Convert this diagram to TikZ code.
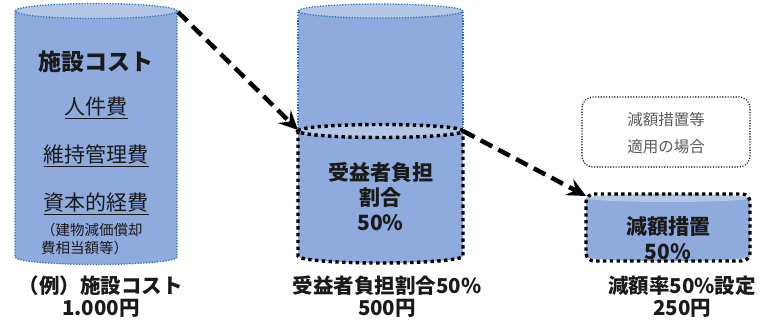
\documentclass[tikz,border=0pt]{standalone}
\usepackage{fontspec}
\newfontfamily\jp{Noto Sans CJK JP}
\usetikzlibrary{arrows.meta}
\definecolor{cylfill}{HTML}{8FAADC}
\definecolor{cyltop}{HTML}{B4C7E7}
\definecolor{cylline}{HTML}{2E75B6}
\definecolor{txt}{HTML}{1A1A1A}
\definecolor{graytxt}{HTML}{595959}
\tikzset{
  cylfillstyle/.style={fill=cylfill},
  cyltopstyle/.style={fill=cyltop},
  blueedge/.style={draw=cylline, line width=1.3pt, dash pattern=on 1.3pt off 1.5pt},
  blackedge/.style={draw=black, line width=3.4pt, dash pattern=on 3.4pt off 3.4pt},
  flowarrow/.style={draw=black, line width=4.5pt, dash pattern=on 13pt off 7pt, -{Stealth[length=19pt,width=18pt,inset=7pt]}},
  bigtxt/.style={font=\jp\fontsize{20.5}{22}\selectfont\bfseries, text=txt, align=center, inner sep=0pt},
  innertxt/.style={font=\jp\fontsize{21}{25}\selectfont\bfseries, text=txt, align=center, inner sep=0pt},
  cyltxt/.style={font=\jp\fontsize{21}{23}\selectfont, text=txt, inner sep=0pt},
  smalltxt/.style={font=\jp\fontsize{14.5}{18}\selectfont, text=txt, align=left, inner sep=0pt},
  graytext/.style={font=\jp\fontsize{15.5}{27}\selectfont, text=graytxt, align=center, inner sep=0pt},
  notebox/.style={draw=black, line width=1.1pt, dash pattern=on 1.1pt off 1.6pt, rounded corners=11pt}
}
\begin{document}
\begin{tikzpicture}[x=1pt,y=1pt]
\useasboundingbox (0,0) rectangle (771,320);
% ---- cylinder 1 ----
\path[cylfillstyle] (15,309) -- (15,63) arc[start angle=180,end angle=360,x radius=81,y radius=7.5] -- (177,309) -- cycle;
\draw[blueedge] (15,309) -- (15,63) arc[start angle=180,end angle=360,x radius=81,y radius=7.5] -- (177,309);
\path[cyltopstyle,blueedge] (96,309) ellipse[x radius=81,y radius=7.5];
\node[cyltxt,font=\jp\fontsize{23}{25}\selectfont\bfseries] (c1title) at (96,258) {施設コスト};
\node[cyltxt] (c1a) at (96,212) {\underline{人件費}};
\node[cyltxt] (c1b) at (96,164) {\underline{維持管理費}};
\node[cyltxt] (c1c) at (96,116) {\underline{資本的経費}};
\node[smalltxt,anchor=west] (c1d) at (41,81) {（建物減価償却\\ 費相当額等）};
% ---- cylinder 2 ----
\path[cylfillstyle] (298,309) -- (298,64) arc[start angle=180,end angle=360,x radius=82.5,y radius=7] -- (463,309) -- cycle;
\draw[blueedge] (298,189) -- (298,309);
\draw[blueedge] (463,189) -- (463,309);
\path[cyltopstyle,blueedge] (380.5,309) ellipse[x radius=82.5,y radius=7];
\draw[blackedge] (298,189) -- (298,64) arc[start angle=180,end angle=360,x radius=82.5,y radius=7] -- (463,189);
\path[cyltopstyle,blackedge] (380.5,189) ellipse[x radius=82.5,y radius=6.5];
\node[innertxt] (c2txt) at (380.5,123) {受益者負担\\割合\\50\%};
% ---- box 3 ----
\path[cylfillstyle] (586,122) -- (586,63) arc[start angle=180,end angle=360,x radius=82,y radius=4] -- (750,122) -- cycle;
\path[cyltopstyle] (668,122) ellipse[x radius=82,y radius=4];
\draw[blackedge] (668,126) -- (742,126) to[out=0,in=90] (750,118) -- (750,67) to[out=-90,in=0] (742,59) -- (594,59) to[out=180,in=-90] (586,67) -- (586,118) to[out=90,in=180] (594,126) -- cycle;
\node[innertxt] (c3txt) at (668,82) {減額措置\\50\%};
% ---- note ----
\draw[notebox] (582,153) rectangle (750,223);
\node[graytext] (note) at (666,187) {減額措置等\\適用の場合};
% ---- labels ----
\node[bigtxt] (lab1) at (101,23) {（例）施設コスト\\1.000円};
\node[bigtxt] (lab2) at (387,23) {受益者負担割合50\%\\500円};
\node[bigtxt] (lab3) at (682,23) {減額率50\%設定\\250円};
% ---- arrows ----
\coordinate (a1s) at (178,308);
\coordinate (a1e) at (298,190);
\coordinate (a2s) at (463,189);
\coordinate (a2e) at (586,124);
\draw[flowarrow] (a1s) -- (a1e);
\draw[flowarrow] (a2s) -- (a2e);
\end{tikzpicture}
\end{document}
